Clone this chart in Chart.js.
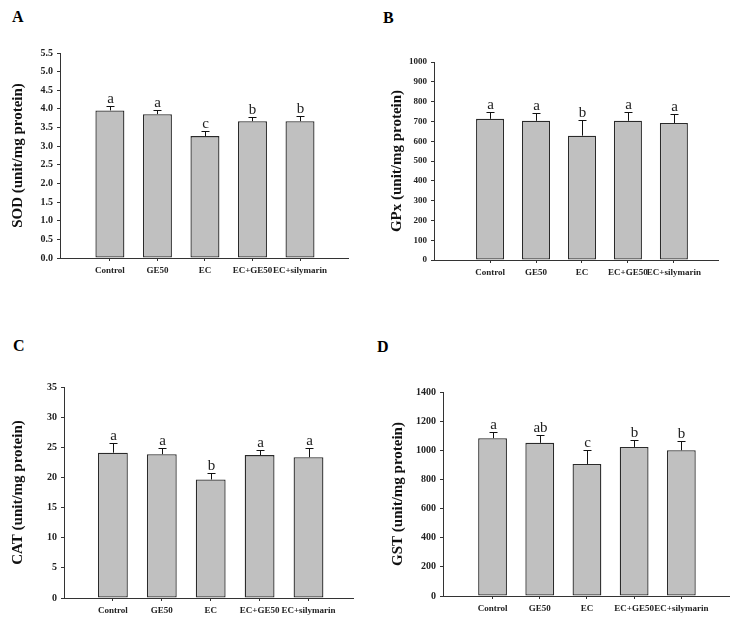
<!DOCTYPE html>
<html>
<head>
<meta charset="utf-8">
<script src="https://cdn.jsdelivr.net/npm/chart.js@4.4.1/dist/chart.umd.min.js"></script>
<style>
    body { margin: 0; background: #fff; width: 737px; height: 624px; position: relative; overflow: hidden; }
    canvas { position: absolute; }
    .tag { position: absolute; font: bold 16px "Liberation Serif", serif; line-height: 16px; color: #000; }
</style>
</head>
<body>
<div class="tag" style="left:12px;top:9px">A</div>
<div class="tag" style="left:383px;top:10px">B</div>
<div class="tag" style="left:13px;top:338px">C</div>
<div class="tag" style="left:377px;top:339px">D</div>

<canvas id="sodChart" width="368" height="300" style="left:0;top:0"></canvas>
<canvas id="gpxChart" width="367" height="300" style="left:370px;top:0"></canvas>
<canvas id="catChart" width="368" height="304" style="left:0;top:320px"></canvas>
<canvas id="gstChart" width="367" height="304" style="left:370px;top:320px"></canvas>

<script>
const groups = ['Control', 'GE50', 'EC', 'EC+GE50', 'EC+silymarin'];

// SOD
const sodMean = [3.96, 3.86, 3.27, 3.67, 3.67];
const sodErr = [0.11, 0.12, 0.13, 0.10, 0.13];
const sodLetters = ['a', 'a', 'c', 'b', 'b'];

// GPx
const gpxMean = [713, 703, 628, 703, 692];
const gpxErr = [35, 37, 79, 45, 45];
const gpxLetters = ['a', 'a', 'b', 'a', 'a'];

// CAT
const catMean = [24.1, 23.85, 19.65, 23.7, 23.35];
const catErr = [1.55, 1.0, 1.1, 0.9, 1.5];
const catLetters = ['a', 'a', 'b', 'a', 'a'];

// GST
const gstMean = [1083, 1051, 906, 1023, 1000];
const gstErr = [41, 52, 94, 48, 62];
const gstLetters = ['a', 'ab', 'c', 'b', 'b'];

const SERIF = '"Liberation Serif", "Times New Roman", serif';

// error bars (upper half only) + significance letters
const errorBarPlugin = {
    id: 'errorBars',
    afterDatasetsDraw(chart, args, opts) {
        const ctx = chart.ctx;
        const xs = chart.scales.x, ys = chart.scales.y;
        ctx.save();
        ctx.strokeStyle = '#111';
        ctx.lineWidth = 1;
        ctx.fillStyle = '#222';
        ctx.font = '15px ' + SERIF;
        ctx.textAlign = 'center';
        ctx.textBaseline = 'alphabetic';
        opts.means.forEach((m, i) => {
            const x = Math.round(xs.getPixelForValue(i)) + 0.5;
            const y0 = ys.getPixelForValue(m);
            const y1 = Math.round(ys.getPixelForValue(m + opts.errs[i])) + 0.5;
            ctx.beginPath();
            ctx.moveTo(x, y0);
            ctx.lineTo(x, y1);
            ctx.moveTo(x - 4, y1);
            ctx.lineTo(x + 4, y1);
            ctx.stroke();
            ctx.fillText(opts.letters[i], x, y1 - 4);
        });
        ctx.restore();
    }
};

function makeChart(id, p) {
    const ctx = document.getElementById(id).getContext('2d');
    return new Chart(ctx, {
        type: 'bar',
        data: {
            datasets: [{
                data: p.means.map((v, i) => ({ x: i, y: v })),
                backgroundColor: '#c0c0c0',
                borderColor: '#2a2a2a',
                borderWidth: 1.3,
                borderSkipped: false,
                categoryPercentage: 1,
                barPercentage: 0.61
            }]
        },
        options: {
            responsive: false,
            animation: false,
            devicePixelRatio: 1,
            layout: { padding: { top: p.top, right: p.right, left: 0, bottom: 0 } },
            plugins: {
                legend: { display: false },
                tooltip: { enabled: false },
                errorBars: { means: p.means, errs: p.errs, letters: p.letters }
            },
            scales: {
                x: {
                    type: 'linear',
                    min: p.xMin,
                    max: p.xMax,
                    offset: false,
                    grid: { display: true, drawOnChartArea: false, offset: false, tickLength: 3, color: '#333' },
                    border: { display: true, color: '#333', width: 1 },
                    afterBuildTicks: s => { s.ticks = groups.map((g, i) => ({ value: i })); },
                    afterFit: s => { s.height = p.xHeight; },
                    ticks: {
                        autoSkip: false,
                        maxRotation: 0,
                        padding: 4,
                        color: '#222',
                        font: { family: SERIF, size: 9, weight: 'bold' },
                        callback: v => groups[v]
                    }
                },
                y: {
                    min: 0,
                    max: p.yMax,
                    grid: { display: true, drawOnChartArea: false, tickLength: 3, color: '#333' },
                    border: { display: true, color: '#333', width: 1 },
                    afterFit: s => { s.width = p.yWidth; },
                    ticks: {
                        stepSize: p.step,
                        padding: 4,
                        color: '#222',
                        font: { family: SERIF, size: p.tickSize, weight: 'bold' },
                        callback: p.fmt
                    },
                    title: {
                        display: true,
                        text: p.title,
                        color: '#111',
                        padding: p.titlePad,
                        font: { family: SERIF, size: 15, weight: 'bold', lineHeight: 1.2 }
                    }
                }
            }
        },
        plugins: [errorBarPlugin]
    });
}

makeChart('sodChart', {
    means: sodMean, errs: sodErr, letters: sodLetters,
    title: 'SOD (unit/mg protein)', yMax: 5.5, step: 0.5, fmt: v => v.toFixed(1), tickSize: 10,
    top: 53, right: 20, yWidth: 60, xHeight: 42, xMin: -1.05, xMax: 5.01, titlePad: 9
});

makeChart('gpxChart', {
    means: gpxMean, errs: gpxErr, letters: gpxLetters,
    title: 'GPx (unit/mg protein)', yMax: 1000, step: 100, fmt: v => v, tickSize: 9,
    top: 62, right: 19, yWidth: 64, xHeight: 40, xMin: -1.22, xMax: 4.96, titlePad: 18
});

makeChart('catChart', {
    means: catMean, errs: catErr, letters: catLetters,
    title: 'CAT (unit/mg protein)', yMax: 35, step: 5, fmt: v => v, tickSize: 10,
    top: 67, right: 15, yWidth: 64, xHeight: 26, xMin: -1.0, xMax: 4.91, titlePad: 9
});

makeChart('gstChart', {
    means: gstMean, errs: gstErr, letters: gstLetters,
    title: 'GST (unit/mg protein)', yMax: 1400, step: 200, fmt: v => v, tickSize: 10,
    top: 72, right: 8, yWidth: 73, xHeight: 28, xMin: -1.05, xMax: 5.01, titlePad: 19
});
</script>
</body>
</html>
